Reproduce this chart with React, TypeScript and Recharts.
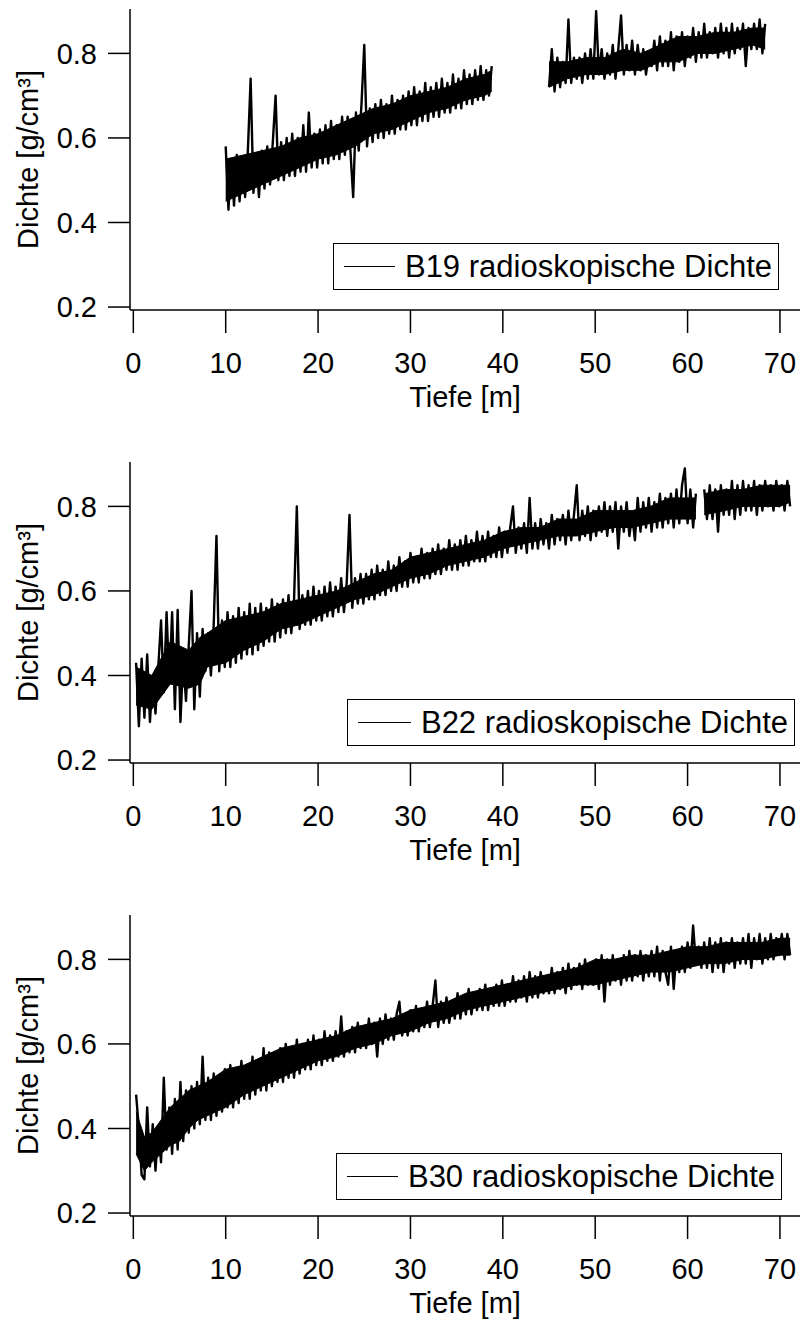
import React from 'react';
import { ComposedChart, Line, Area, XAxis, YAxis, Legend } from 'recharts';

const FONT = '"Liberation Sans", Arial, Helvetica, sans-serif';
const FS = 29;
const LEGEND_FS = 31;

const X_TICKS = [0, 10, 20, 30, 40, 50, 60, 70];
const Y_TICKS = [0.2, 0.4, 0.6, 0.8];
const X_DOMAIN: [number, number] = [-0.36, 72.17];
const Y_DOMAIN: [number, number] = [0.193, 0.905];
const X_LABEL = 'Tiefe [m]';
const Y_LABEL = 'Dichte [g/cm³]';

const STEP = 0.3;

// ---------- B19: two logged sections (10–39 m, 45–68.5 m) ----------
const B19_A_START = 10.0;
const B19_A = [
  0.58, 0.43, 0.55, 0.44, 0.56, 0.45, 0.55, 0.46, 0.57, 0.74,
  0.47, 0.56, 0.46, 0.57, 0.48, 0.58, 0.49, 0.59, 0.70, 0.50,
  0.59, 0.50, 0.60, 0.51, 0.61, 0.51, 0.60, 0.52, 0.63, 0.52,
  0.66, 0.53, 0.61, 0.53, 0.62, 0.54, 0.63, 0.54, 0.64, 0.55,
  0.63, 0.55, 0.65, 0.56, 0.65, 0.57, 0.46, 0.66, 0.57, 0.68,
  0.82, 0.58, 0.67, 0.59, 0.68, 0.60, 0.69, 0.60, 0.68, 0.61,
  0.70, 0.61, 0.69, 0.62, 0.70, 0.62, 0.71, 0.63, 0.72, 0.63,
  0.71, 0.64, 0.73, 0.64, 0.72, 0.65, 0.73, 0.65, 0.74, 0.66,
  0.73, 0.66, 0.75, 0.67, 0.74, 0.67, 0.76, 0.68, 0.75, 0.68,
  0.76, 0.69, 0.77, 0.69, 0.76, 0.70, 0.77,
];
const B19_GAP_DEPTH = 42;
const B19_B_START = 45.0;
const B19_B = [
  0.72, 0.81, 0.71, 0.79, 0.72, 0.78, 0.73, 0.88, 0.73, 0.79,
  0.74, 0.79, 0.73, 0.80, 0.74, 0.81, 0.74, 0.90, 0.75, 0.81,
  0.74, 0.80, 0.75, 0.82, 0.74, 0.81, 0.89, 0.75, 0.82, 0.76,
  0.83, 0.75, 0.82, 0.76, 0.81, 0.75, 0.80, 0.77, 0.83, 0.76,
  0.84, 0.77, 0.83, 0.77, 0.85, 0.76, 0.84, 0.78, 0.85, 0.77,
  0.84, 0.79, 0.86, 0.78, 0.85, 0.79, 0.87, 0.79, 0.85, 0.80,
  0.86, 0.79, 0.87, 0.80, 0.86, 0.79, 0.87, 0.80, 0.86, 0.81,
  0.87, 0.77, 0.86, 0.81, 0.87, 0.81, 0.88, 0.80, 0.87,
];
// dense core of the noisy band (depth, low, high)
const B19_CORE_D = [10, 12, 14, 16, 18, 20, 22, 24, 26, 28, 30, 32, 34, 36, 38, 38.8, 42, 45, 47, 49, 51, 53, 55, 57, 59, 61, 63, 65, 67, 68.4];
const B19_CORE_LO = [0.45, 0.47, 0.49, 0.51, 0.53, 0.55, 0.56, 0.58, 0.61, 0.62, 0.64, 0.66, 0.67, 0.69, 0.70, 0.71, null, 0.72, 0.74, 0.75, 0.75, 0.76, 0.76, 0.78, 0.78, 0.80, 0.80, 0.81, 0.82, 0.81];
const B19_CORE_HI = [0.55, 0.56, 0.57, 0.58, 0.60, 0.61, 0.63, 0.65, 0.67, 0.68, 0.70, 0.71, 0.72, 0.74, 0.75, 0.76, null, 0.78, 0.78, 0.79, 0.79, 0.81, 0.80, 0.82, 0.84, 0.84, 0.85, 0.85, 0.86, 0.86];

// ---------- B22 ----------
const B22_START = 0.3;
const B22 = [
  0.43, 0.28, 0.44, 0.30, 0.45, 0.29, 0.40, 0.31, 0.42, 0.53,
  0.36, 0.55, 0.38, 0.55, 0.32, 0.555, 0.29, 0.44, 0.34, 0.47,
  0.60, 0.32, 0.50, 0.35, 0.51, 0.41, 0.50, 0.40, 0.52, 0.73,
  0.41, 0.53, 0.42, 0.55, 0.42, 0.54, 0.43, 0.56, 0.44, 0.55,
  0.45, 0.57, 0.45, 0.56, 0.46, 0.57, 0.47, 0.56, 0.48, 0.58,
  0.48, 0.57, 0.49, 0.58, 0.50, 0.59, 0.50, 0.58, 0.80, 0.51,
  0.59, 0.52, 0.60, 0.52, 0.61, 0.53, 0.60, 0.53, 0.61, 0.54,
  0.62, 0.54, 0.61, 0.55, 0.63, 0.55, 0.62, 0.78, 0.56, 0.63,
  0.57, 0.64, 0.57, 0.64, 0.58, 0.65, 0.58, 0.66, 0.59, 0.65,
  0.59, 0.67, 0.60, 0.66, 0.60, 0.68, 0.61, 0.67, 0.61, 0.69,
  0.62, 0.68, 0.62, 0.70, 0.63, 0.69, 0.63, 0.70, 0.64, 0.71,
  0.64, 0.70, 0.65, 0.72, 0.65, 0.71, 0.65, 0.72, 0.66, 0.73,
  0.66, 0.72, 0.67, 0.74, 0.67, 0.73, 0.67, 0.74, 0.68, 0.73,
  0.68, 0.75, 0.68, 0.74, 0.69, 0.75, 0.80, 0.69, 0.75, 0.70,
  0.76, 0.69, 0.82, 0.70, 0.76, 0.70, 0.77, 0.71, 0.76, 0.70,
  0.78, 0.71, 0.77, 0.72, 0.78, 0.71, 0.79, 0.72, 0.78, 0.85,
  0.72, 0.79, 0.73, 0.80, 0.72, 0.79, 0.73, 0.80, 0.74, 0.81,
  0.73, 0.80, 0.74, 0.81, 0.70, 0.80, 0.74, 0.81, 0.73, 0.78,
  0.72, 0.82, 0.74, 0.81, 0.75, 0.82, 0.74, 0.81, 0.75, 0.83,
  0.75, 0.82, 0.76, 0.83, 0.75, 0.84, 0.76, 0.85, 0.89, 0.76,
  0.84, 0.75, 0.83, null, null, 0.84, 0.77, 0.85, 0.77, 0.84,
  0.74, 0.85, 0.78, 0.84, 0.78, 0.86, 0.77, 0.85, 0.78, 0.86,
  0.79, 0.85, 0.79, 0.86, 0.78, 0.85, 0.79, 0.86, 0.80, 0.85,
  0.79, 0.86, 0.80, 0.85, 0.79, 0.86, 0.80,
];
const B22_CORE_D = [0.3, 2, 4, 6, 7.2, 8, 10, 12, 14, 16, 18, 20, 22, 24, 26, 28, 30, 32, 34, 36, 38, 40, 42, 44, 46, 48, 50, 52, 54, 56, 58, 60, 60.9, 61.3, 61.8, 64, 66, 68, 70, 71.1];
const B22_CORE_LO = [0.33, 0.32, 0.38, 0.37, 0.38, 0.42, 0.43, 0.46, 0.48, 0.51, 0.52, 0.54, 0.56, 0.58, 0.59, 0.61, 0.63, 0.64, 0.66, 0.67, 0.68, 0.70, 0.71, 0.72, 0.73, 0.73, 0.74, 0.75, 0.75, 0.76, 0.77, 0.77, 0.77, null, 0.78, 0.79, 0.80, 0.80, 0.80, 0.81];
const B22_CORE_HI = [0.42, 0.40, 0.48, 0.46, 0.49, 0.50, 0.53, 0.54, 0.55, 0.57, 0.58, 0.59, 0.60, 0.62, 0.64, 0.65, 0.68, 0.69, 0.70, 0.71, 0.72, 0.74, 0.75, 0.75, 0.77, 0.77, 0.79, 0.79, 0.79, 0.80, 0.82, 0.82, 0.82, null, 0.83, 0.84, 0.84, 0.85, 0.85, 0.85];

// ---------- B30 ----------
const B30_START = 0.3;
const B30 = [
  0.48, 0.40, 0.29, 0.28, 0.45, 0.31, 0.41, 0.30, 0.40, 0.32,
  0.52, 0.35, 0.45, 0.34, 0.47, 0.35, 0.51, 0.37, 0.49, 0.39,
  0.50, 0.40, 0.51, 0.41, 0.57, 0.42, 0.52, 0.42, 0.53, 0.43,
  0.52, 0.44, 0.54, 0.45, 0.55, 0.45, 0.54, 0.46, 0.56, 0.47,
  0.55, 0.47, 0.57, 0.48, 0.56, 0.49, 0.59, 0.49, 0.58, 0.50,
  0.58, 0.51, 0.59, 0.51, 0.60, 0.52, 0.59, 0.52, 0.61, 0.53,
  0.60, 0.54, 0.61, 0.54, 0.62, 0.55, 0.61, 0.55, 0.63, 0.56,
  0.62, 0.56, 0.63, 0.57, 0.665, 0.57, 0.63, 0.58, 0.64, 0.58,
  0.65, 0.59, 0.64, 0.59, 0.66, 0.60, 0.65, 0.57, 0.66, 0.60,
  0.67, 0.61, 0.66, 0.61, 0.67, 0.70, 0.62, 0.67, 0.62, 0.68,
  0.63, 0.69, 0.63, 0.68, 0.64, 0.70, 0.64, 0.69, 0.75, 0.64,
  0.70, 0.65, 0.71, 0.65, 0.70, 0.66, 0.72, 0.66, 0.71, 0.67,
  0.73, 0.67, 0.72, 0.68, 0.73, 0.68, 0.74, 0.68, 0.73, 0.69,
  0.74, 0.69, 0.75, 0.69, 0.74, 0.70, 0.76, 0.70, 0.75, 0.71,
  0.76, 0.70, 0.77, 0.71, 0.76, 0.71, 0.77, 0.72, 0.76, 0.72,
  0.78, 0.72, 0.77, 0.73, 0.78, 0.72, 0.79, 0.73, 0.78, 0.74,
  0.79, 0.73, 0.80, 0.74, 0.79, 0.74, 0.80, 0.73, 0.81, 0.70,
  0.80, 0.74, 0.81, 0.75, 0.80, 0.74, 0.81, 0.75, 0.82, 0.75,
  0.81, 0.76, 0.82, 0.75, 0.81, 0.76, 0.82, 0.76, 0.83, 0.75,
  0.82, 0.77, 0.74, 0.83, 0.73, 0.82, 0.77, 0.83, 0.77, 0.84,
  0.78, 0.88, 0.79, 0.83, 0.78, 0.84, 0.78, 0.85, 0.77, 0.84,
  0.78, 0.85, 0.77, 0.84, 0.79, 0.85, 0.78, 0.84, 0.79, 0.85,
  0.79, 0.86, 0.78, 0.85, 0.80, 0.86, 0.79, 0.85, 0.80, 0.86,
  0.80, 0.85, 0.81, 0.86, 0.80, 0.86, 0.81,
];
const B30_CORE_D = [0.3, 1.2, 2, 3, 4, 5, 6, 7, 8, 10, 12, 14, 16, 18, 20, 22, 24, 26, 28, 30, 32, 34, 36, 38, 40, 42, 44, 46, 48, 50, 52, 54, 56, 58, 60, 62, 64, 66, 68, 70, 71.1];
const B30_CORE_LO = [0.34, 0.30, 0.32, 0.34, 0.36, 0.37, 0.40, 0.42, 0.43, 0.45, 0.48, 0.50, 0.52, 0.54, 0.56, 0.57, 0.59, 0.60, 0.62, 0.63, 0.65, 0.66, 0.68, 0.69, 0.70, 0.71, 0.72, 0.73, 0.74, 0.74, 0.75, 0.76, 0.77, 0.77, 0.78, 0.79, 0.79, 0.80, 0.80, 0.81, 0.81];
const B30_CORE_HI = [0.44, 0.38, 0.39, 0.42, 0.45, 0.47, 0.49, 0.50, 0.51, 0.54, 0.55, 0.57, 0.59, 0.60, 0.61, 0.62, 0.64, 0.65, 0.66, 0.68, 0.69, 0.70, 0.72, 0.73, 0.74, 0.75, 0.76, 0.77, 0.78, 0.80, 0.80, 0.81, 0.81, 0.82, 0.83, 0.83, 0.84, 0.84, 0.84, 0.85, 0.85];

type Pt = { d: number; v: number | null };
type Band = { d: number; band: [number, number] | null };

function series(start: number, values: (number | null)[]): Pt[] {
  return values.map((v, i) => ({ d: Math.round((start + i * STEP) * 100) / 100, v }));
}

function core(ds: number[], lo: (number | null)[], hi: (number | null)[]): Band[] {
  return ds.map((d, i) => ({
    d,
    band: lo[i] == null || hi[i] == null ? null : [lo[i] as number, hi[i] as number],
  }));
}

const B19_DATA: Pt[] = [
  ...series(B19_A_START, B19_A),
  { d: B19_GAP_DEPTH, v: null },
  ...series(B19_B_START, B19_B),
];
const B22_DATA: Pt[] = series(B22_START, B22);
const B30_DATA: Pt[] = series(B30_START, B30);

const PANELS = [
  {
    name: 'B19 radioskopische Dichte',
    data: B19_DATA,
    core: core(B19_CORE_D, B19_CORE_LO, B19_CORE_HI),
    legend: { left: 333, top: 243, width: 446 },
  },
  {
    name: 'B22 radioskopische Dichte',
    data: B22_DATA,
    core: core(B22_CORE_D, B22_CORE_LO, B22_CORE_HI),
    legend: { left: 347, top: 246, width: 448 },
  },
  {
    name: 'B30 radioskopische Dichte',
    data: B30_DATA,
    core: core(B30_CORE_D, B30_CORE_LO, B30_CORE_HI),
    legend: { left: 336, top: 247, width: 446 },
  },
];

const CHART_W = 801;
const CHART_H = 453;

const axisStyle = { stroke: '#000', strokeWidth: 1.5 };
const tickStyle = { fill: '#000', fontSize: FS, fontFamily: FONT };

const XLabel = () => (
  <text x={465} y={397} textAnchor="middle" dominantBaseline="central" fill="#000" fontSize={FS} fontFamily={FONT}>
    {X_LABEL}
  </text>
);

const YLabel = () => (
  <text
    x={28}
    y={159.5}
    transform="rotate(-90 28 159.5)"
    textAnchor="middle"
    dominantBaseline="central"
    fill="#000"
    fontSize={FS}
    fontFamily={FONT}
  >
    {Y_LABEL}
  </text>
);

const LegendBox = (props: any) => {
  const items = (props.payload || []).filter((p: any) => p.type !== 'none');
  const item = items[0];
  const label = item ? item.value : '';
  const color = item ? item.color : '#000';
  return (
    <div
      style={{
        boxSizing: 'border-box',
        width: '100%',
        height: 47,
        border: '1.5px solid #000',
        background: '#fff',
        display: 'flex',
        alignItems: 'center',
        paddingLeft: 10,
        paddingRight: 6,
        fontFamily: FONT,
        fontSize: LEGEND_FS,
        color: '#000',
        whiteSpace: 'nowrap',
      }}
    >
      <div style={{ flex: 1, height: 1.5, background: color, marginRight: 10 }} />
      <span>{label}</span>
    </div>
  );
};

function Panel({
  name,
  data,
  coreData,
  legend,
}: {
  name: string;
  data: Pt[];
  coreData: Band[];
  legend: { left: number; top: number; width: number };
}) {
  return (
    <ComposedChart width={CHART_W} height={CHART_H} margin={{ top: 9, right: 1, bottom: 0, left: 0 }}>
      <XAxis
        dataKey="d"
        type="number"
        domain={X_DOMAIN}
        allowDataOverflow
        ticks={X_TICKS}
        interval={0}
        height={143}
        tickSize={23}
        tickMargin={19}
        axisLine={axisStyle}
        tickLine={axisStyle}
        tick={tickStyle}
        label={XLabel}
      />
      <XAxis
        xAxisId="top"
        orientation="top"
        dataKey="d"
        type="number"
        domain={X_DOMAIN}
        allowDataOverflow
        height={0}
        tick={false}
        tickLine={false}
        axisLine={axisStyle}
      />
      <YAxis
        type="number"
        domain={Y_DOMAIN}
        allowDataOverflow
        ticks={Y_TICKS}
        interval={0}
        width={130}
        tickSize={22}
        tickMargin={11}
        tickFormatter={(v: number) => v.toFixed(1)}
        axisLine={axisStyle}
        tickLine={axisStyle}
        tick={tickStyle}
        label={YLabel}
      />
      <YAxis
        yAxisId="right"
        orientation="right"
        type="number"
        domain={Y_DOMAIN}
        allowDataOverflow
        width={0}
        tick={false}
        tickLine={false}
        axisLine={{ stroke: '#9a9a9a', strokeWidth: 1.2 }}
      />
      <Legend
        layout="horizontal"
        verticalAlign="middle"
        align="center"
        content={LegendBox}
        wrapperStyle={{ position: 'absolute', left: legend.left, top: legend.top, width: legend.width, height: 47 }}
      />
      <Area
        data={coreData}
        dataKey="band"
        type="linear"
        stroke="#000"
        strokeWidth={1}
        fill="#000"
        fillOpacity={1}
        connectNulls={false}
        legendType="none"
        dot={false}
        activeDot={false}
        isAnimationActive={false}
      />
      <Line
        data={data}
        dataKey="v"
        name={name}
        type="linear"
        stroke="#000"
        strokeWidth={2.4}
        strokeLinejoin="round"
        dot={false}
        activeDot={false}
        connectNulls={false}
        isAnimationActive={false}
      />
    </ComposedChart>
  );
}

export default function App() {
  return (
    <div style={{ position: 'absolute', left: 0, top: 0, width: CHART_W, height: 1323, overflow: 'hidden', background: '#fff' }}>
      {PANELS.map((p, i) => (
        <div key={p.name} style={{ position: 'absolute', left: 0, top: i * CHART_H }}>
          <Panel name={p.name} data={p.data} coreData={p.core} legend={p.legend} />
        </div>
      ))}
    </div>
  );
}
